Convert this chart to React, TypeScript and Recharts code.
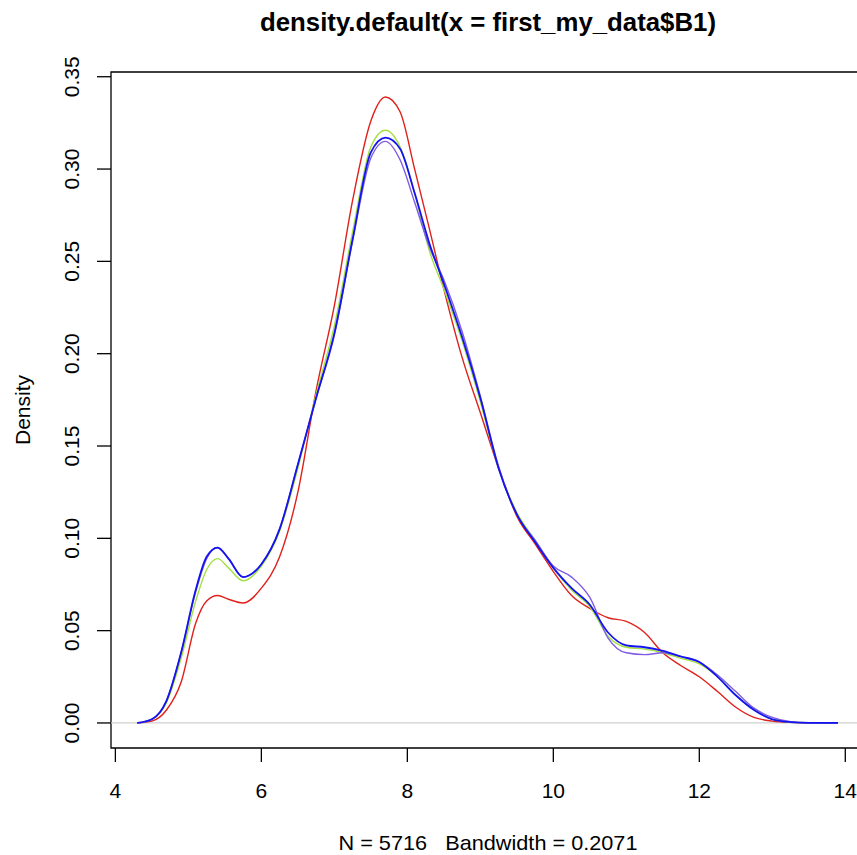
import React from "react";
import { LineChart, Line, XAxis, YAxis, ReferenceArea, ReferenceLine } from "recharts";

const XS = [4.3, 4.5, 4.7, 4.9, 5.1, 5.25, 5.4, 5.55, 5.75, 6.0, 6.25, 6.5, 6.75, 7.0, 7.25, 7.5, 7.7, 7.9, 8.1, 8.3, 8.5, 8.75, 9.0, 9.25, 9.5, 9.75, 10.0, 10.25, 10.5, 10.75, 11.0, 11.25, 11.5, 11.75, 12.0, 12.25, 12.5, 12.75, 13.0, 13.25, 13.5, 13.9];

const RED = [0, 0.001, 0.007, 0.022, 0.054, 0.066, 0.069, 0.067, 0.065, 0.073, 0.090, 0.125, 0.180, 0.226, 0.283, 0.326, 0.339, 0.331, 0.300, 0.268, 0.235, 0.198, 0.168, 0.138, 0.112, 0.097, 0.082, 0.069, 0.062, 0.057, 0.055, 0.049, 0.038, 0.031, 0.025, 0.017, 0.0085, 0.003, 0.001, 0.0003, 0.0001, 0];

const GREEN = [0, 0.002, 0.011, 0.035, 0.066, 0.083, 0.089, 0.084, 0.077, 0.085, 0.104, 0.138, 0.178, 0.215, 0.266, 0.312, 0.321, 0.312, 0.287, 0.256, 0.235, 0.207, 0.174, 0.138, 0.114, 0.099, 0.084, 0.072, 0.063, 0.047, 0.041, 0.040, 0.038, 0.035, 0.032, 0.025, 0.015, 0.007, 0.002, 0.0005, 0.0001, 0];

const PURPLE = [0, 0.002, 0.012, 0.038, 0.071, 0.089, 0.095, 0.089, 0.079, 0.086, 0.105, 0.140, 0.176, 0.210, 0.261, 0.306, 0.315, 0.305, 0.282, 0.258, 0.240, 0.212, 0.177, 0.139, 0.113, 0.099, 0.085, 0.079, 0.068, 0.046, 0.038, 0.037, 0.038, 0.036, 0.033, 0.026, 0.017, 0.008, 0.003, 0.0007, 0.0001, 0];

const BLUE = [0, 0.002, 0.012, 0.038, 0.072, 0.090, 0.095, 0.089, 0.079, 0.086, 0.105, 0.140, 0.176, 0.211, 0.262, 0.309, 0.317, 0.311, 0.287, 0.260, 0.238, 0.209, 0.176, 0.138, 0.113, 0.098, 0.084, 0.073, 0.064, 0.049, 0.042, 0.041, 0.039, 0.036, 0.033, 0.025, 0.015, 0.007, 0.002, 0.0005, 0.0001, 0];

const X_TICKS = [4, 6, 8, 10, 12, 14];
const Y_TICKS = [0, 0.05, 0.1, 0.15, 0.2, 0.25, 0.3, 0.35];
const X_DOMAIN = [3.94, 14.27];
const Y_DOMAIN = [-0.01356, 0.35256];

const TITLE = "density.default(x = first_my_data$B1)";
const X_LABEL = "N = 5716   Bandwidth = 0.2071";
const Y_LABEL = "Density";

const data = XS.map((x, i) => ({ x, red: RED[i], green: GREEN[i], purple: PURPLE[i], blue: BLUE[i] }));

const FONT = "'Liberation Sans', Arial, Helvetica, sans-serif";

const XTick = (props: any) => {
  const { x, payload } = props;
  return (
    <text x={x} y={798} textAnchor="middle" fontFamily={FONT} fontSize={21} fill="#000">
      {String(payload.value)}
    </text>
  );
};

const YTick = (props: any) => {
  const { y, payload } = props;
  const bx = 79.5;
  return (
    <text x={bx} y={y} textAnchor="middle" fontFamily={FONT} fontSize={21} fill="#000" transform={`rotate(-90 ${bx} ${y})`}>
      {Number(payload.value).toFixed(2)}
    </text>
  );
};

export default function App() {
  return (
    <div style={{ position: "absolute", left: 0, top: 0, width: 857, height: 855, overflow: "hidden", background: "#fff" }}>
      <LineChart width={880} height={855} data={data} margin={{ top: 72, right: 15, bottom: 67, left: 71 }}>
        <XAxis
          dataKey="x"
          type="number"
          domain={X_DOMAIN}
          ticks={X_TICKS}
          allowDataOverflow
          axisLine={false}
          tickLine={{ stroke: "#000", strokeWidth: 1.3 }}
          tickSize={14}
          height={40}
          tick={<XTick />}
          interval={0}
        />
        <YAxis
          type="number"
          domain={Y_DOMAIN}
          ticks={Y_TICKS}
          allowDataOverflow
          axisLine={false}
          tickLine={{ stroke: "#000", strokeWidth: 1.3 }}
          tickSize={14}
          width={40}
          tick={<YTick />}
          interval={0}
        />
        <ReferenceLine y={0} stroke="#cfcfcf" strokeWidth={1.3} />
        <ReferenceArea x1={X_DOMAIN[0]} x2={X_DOMAIN[1]} y1={Y_DOMAIN[0]} y2={Y_DOMAIN[1]} fill="none" fillOpacity={0} stroke="#000" strokeWidth={1.3} />
        <Line type="monotone" dataKey="red" stroke="#e0201a" strokeWidth={1.4} dot={false} isAnimationActive={false} />
        <Line type="monotone" dataKey="green" stroke="#a2e040" strokeWidth={1.4} dot={false} isAnimationActive={false} />
        <Line type="monotone" dataKey="purple" stroke="#7f5ce0" strokeWidth={1.4} dot={false} isAnimationActive={false} />
        <Line type="monotone" dataKey="blue" stroke="#1414f0" strokeWidth={1.8} dot={false} isAnimationActive={false} />
        <text x={488} y={31} textAnchor="middle" fontFamily={FONT} fontSize={25} fontWeight="bold" fill="#000" textLength={456} lengthAdjust="spacingAndGlyphs">
          {TITLE}
        </text>
        <text x={488} y={850} textAnchor="middle" fontFamily={FONT} fontSize={21} fill="#000" style={{ whiteSpace: "pre" }} textLength={299} lengthAdjust="spacingAndGlyphs">
          {X_LABEL}
        </text>
        <text x={29.5} y={410} textAnchor="middle" fontFamily={FONT} fontSize={21} fill="#000" transform="rotate(-90 29.5 410)">
          {Y_LABEL}
        </text>
      </LineChart>
    </div>
  );
}
